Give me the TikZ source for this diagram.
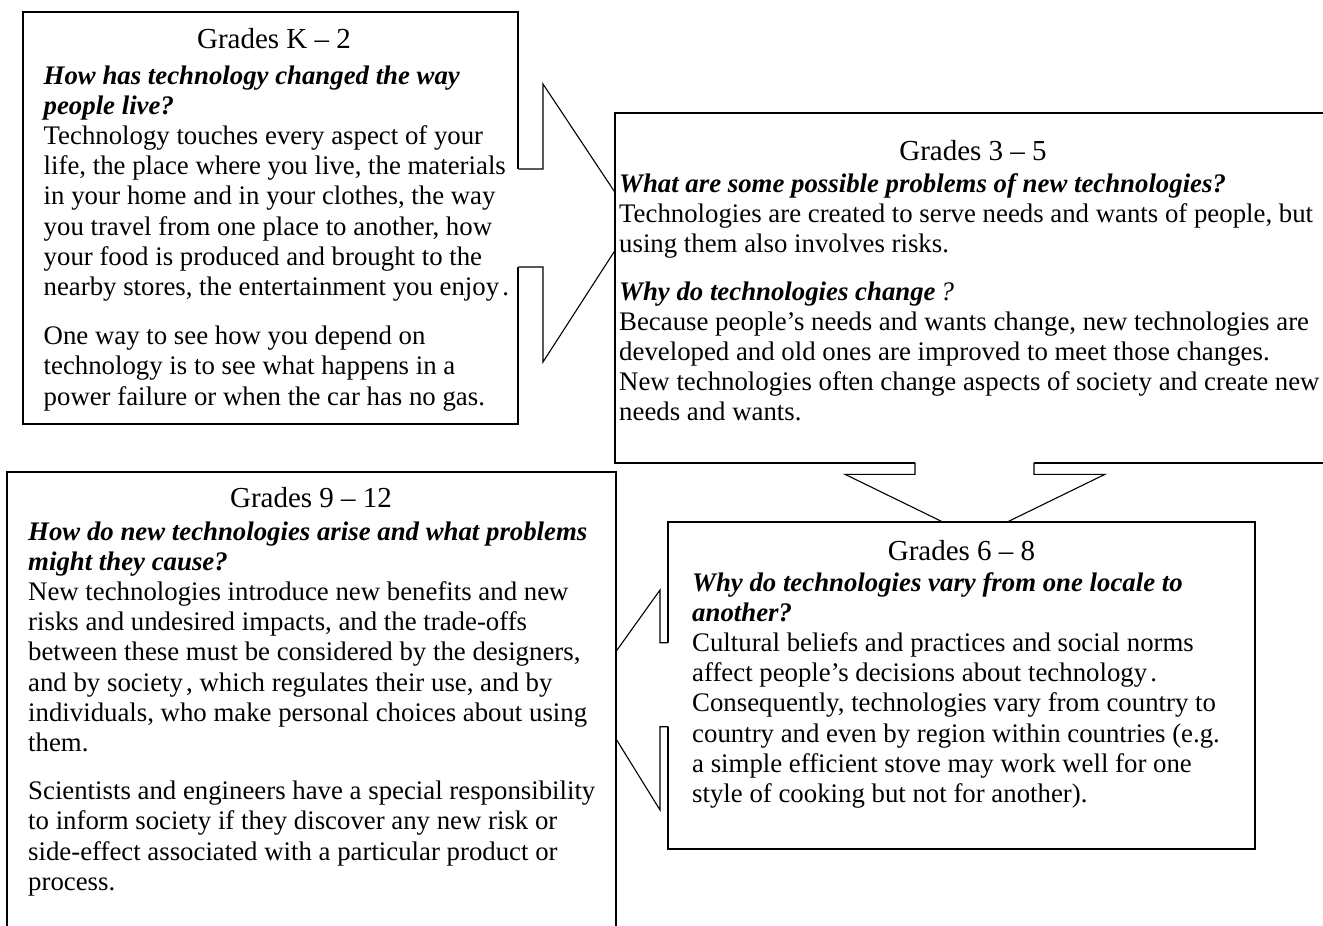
\documentclass[tikz,border=0pt]{standalone}
\usepackage{fontspec}
\setmainfont{Liberation Serif}
\begin{document}
\begin{tikzpicture}[x=1pt,y=-1pt,
  box/.style={draw=black, line width=1.7pt, fill=white, inner sep=0pt, outer sep=0pt, anchor=north west},
  arr/.style={draw=black, line width=1.1pt, line join=miter},
  arrfill/.style={fill=white, draw=none},
  txt/.style={inner sep=0pt, anchor=base west, font=\fontsize{26.8}{30.5}\selectfont},
  ttl/.style={inner sep=0pt, anchor=base, font=\fontsize{29}{33}\selectfont},
  qst/.style={inner sep=0pt, anchor=base west, font=\fontsize{26.8}{30.5}\selectfont\bfseries\itshape}]
\useasboundingbox (0,0) rectangle (1323,926);
\clip (0,0) rectangle (1323,926);

% Box K-2
\node[box, minimum width=495.6pt, minimum height=411.7pt] (k2) at (22.7,12.3) {};
% arrow K-2 -> 3-5
\fill[arrfill] (516.5,169) -- (543,169) -- (543,84) -- (634,221) -- (543,362) -- (543,267) -- (516.5,267) -- cycle;
\draw[arr] (k2.east |- 0,169) -- (543,169) -- (543,84) -- (634,221) -- (543,362) -- (543,267) -- (k2.east |- 0,267);

% Box 3-5
\node[box, minimum width=730pt, minimum height=350pt] (g35) at (615,112.7) {};
% arrow 3-5 -> 6-8
\fill[arrfill] (915,461) -- (915,474.3) -- (845,474.3) -- (975,537.7) -- (1105,474.3) -- (1034,474.3) -- (1034,461) -- cycle;
\draw[arr] (915,0 |- g35.south) -- (915,474.3) -- (845,474.3) -- (975,537.7) -- (1105,474.3) -- (1034,474.3) -- (1034,0 |- g35.south);

% Box 6-8
\node[box, minimum width=587pt, minimum height=327pt] (g68) at (668,522) {};
% arrow 6-8 -> 9-12
\fill[arrfill] (669.5,642.7) -- (660,642.7) -- (660,590) -- (587,692) -- (660,810) -- (660,726.7) -- (669.5,726.7) -- cycle;
\draw[arr] (g68.west |- 0,642.7) -- (660,642.7) -- (660,590) -- (587,692) -- (660,810) -- (660,726.7) -- (g68.west |- 0,726.7);

% Box 9-12
\node[box, minimum width=609.3pt, minimum height=480pt] (g912) at (6.7,472.3) {};

% ---- texts K-2
\node[ttl] (k2t) at (274,48) {Grades K – 2};
\node[qst] (k2q1) at (43.5,84) {How has technology changed the way};
\node[qst] (k2q2) at (43.5,114.2) {people live?};
\node[txt] (k2a) at (43.5,144.4) {Technology touches every aspect of your};
\node[txt] (k2b) at (43.5,174.6) {life, the place where you live, the materials};
\node[txt] (k2c) at (43.5,204.8) {in your home and in your clothes, the way};
\node[txt] (k2d) at (43.5,235) {you travel from one place to another, how};
\node[txt] (k2e) at (43.5,265.2) {your food is produced and brought to the};
\node[txt] (k2f) at (43.5,295.4) {nearby stores, the entertainment you enjoy\hspace{0.12em}.};
\node[txt] (k2g) at (43.5,344.6) {One way to see how you depend on};
\node[txt] (k2h) at (43.5,374.8) {technology is to see what happens in a};
\node[txt] (k2i) at (43.5,405) {power failure or when the car has no gas.};

% ---- texts 3-5
\node[ttl] (g35t) at (973,160) {Grades 3 – 5};
\node[qst] (g35q1) at (619,192) {What are some possible problems of new technologies?};
\node[txt] (g35a) at (619,222.2) {Technologies are created to serve needs and wants of people, but};
\node[txt] (g35b) at (619,252.4) {using them also involves risks.};
\node[qst] (g35q2) at (619,300) {Why do technologies change\hspace{5pt}{\mdseries ?}};
\node[txt] (g35c) at (619,330.2) {Because people’s needs and wants change, new technologies are};
\node[txt] (g35d) at (619,360.4) {developed and old ones are improved to meet those changes.};
\node[txt] (g35e) at (619,390.6) {New technologies often change aspects of society and create new};
\node[txt] (g35f) at (619,420.8) {needs and wants.};

% ---- texts 6-8
\node[ttl] (g68t) at (961.5,560) {Grades 6 – 8};
\node[qst] (g68q1) at (692,591) {Why do technologies vary from one locale to};
\node[qst] (g68q2) at (692,621.2) {another?};
\node[txt] (g68a) at (692,651.4) {Cultural beliefs and practices and social norms};
\node[txt] (g68b) at (692,681.6) {affect people’s decisions about technology\hspace{0.12em}.};
\node[txt] (g68c) at (692,711.8) {Consequently, technologies vary from country to};
\node[txt] (g68d) at (692,742) {country and even by region within countries (e.g.};
\node[txt] (g68e) at (692,772.2) {a simple efficient stove may work well for one};
\node[txt] (g68f) at (692,802.4) {style of cooking but not for another).};

% ---- texts 9-12
\node[ttl] (g912t) at (311,507) {Grades 9 – 12};
\node[qst] (g912q1) at (28,540) {How do new technologies arise and what problems};
\node[qst] (g912q2) at (28,570.2) {might they cause?};
\node[txt] (g912a) at (28,600.4) {New technologies introduce new benefits and new};
\node[txt] (g912b) at (28,630.6) {risks and undesired impacts, and the trade-offs};
\node[txt] (g912c) at (28,660.8) {between these must be considered by the designers,};
\node[txt] (g912d) at (28,691) {and by society\hspace{0.12em}, which regulates their use, and by};
\node[txt] (g912e) at (28,721.2) {individuals, who make personal choices about using};
\node[txt] (g912f) at (28,751.4) {them.};
\node[txt] (g912g) at (28,799.6) {Scientists and engineers have a special responsibility};
\node[txt] (g912h) at (28,829.8) {to inform society if they discover any new risk or};
\node[txt] (g912i) at (28,860) {side-effect associated with a particular product or};
\node[txt] (g912j) at (28,890.2) {process.};
\end{tikzpicture}
\end{document}
